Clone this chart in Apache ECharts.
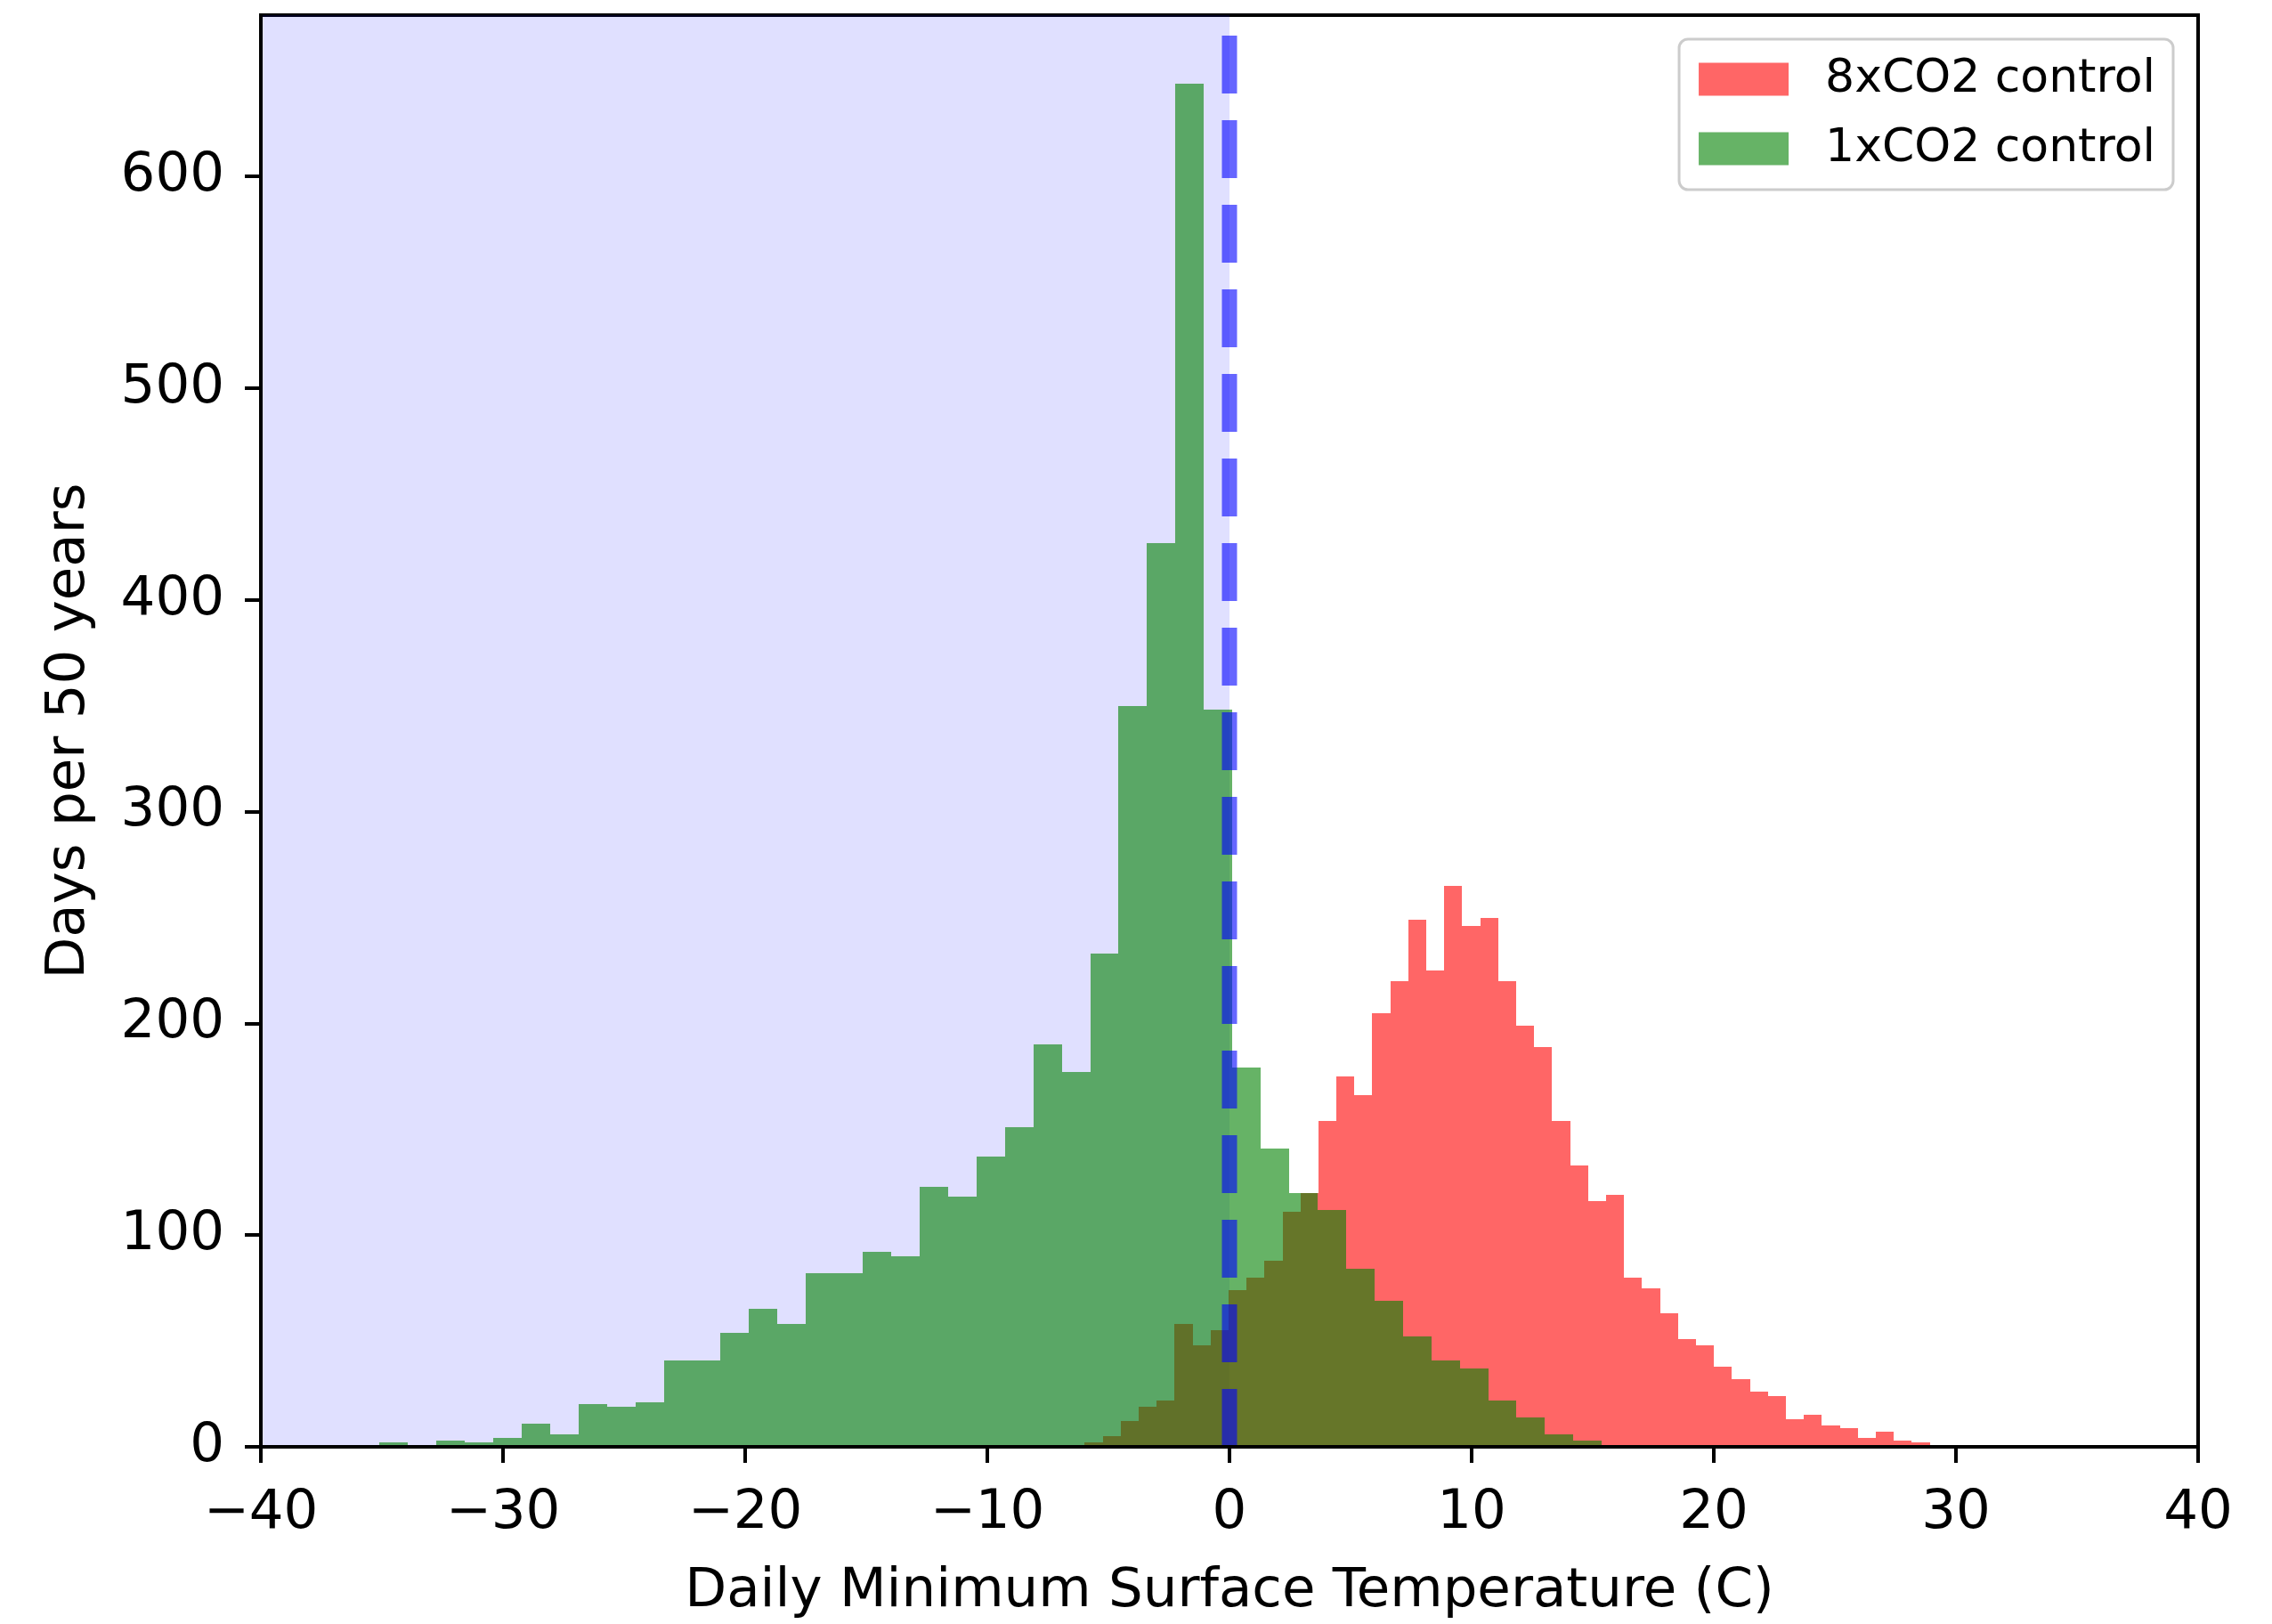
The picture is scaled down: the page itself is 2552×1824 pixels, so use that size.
<!DOCTYPE html>
<html>
<head>
<meta charset="utf-8">
<script src="https://cdn.jsdelivr.net/npm/echarts@6/dist/echarts.min.js"></script>
<style>
html,body{margin:0;padding:0;background:#ffffff;}
#chart{width:2552px;height:1824px;}
</style>
</head>
<body>
<div id="chart"></div>
<script>
// ---- Data ----
// 1xCO2 control histogram: first bin edge, bin width (deg C), counts per bin
const greenStart = -35.1;
const greenWidth = 1.1739;
const greenCounts = [2, 1, 3, 2, 4, 11, 6, 20, 19, 21,
                     41, 41, 54, 65, 58, 82, 82, 92, 90, 123,
                     118, 137, 151, 190, 177, 233, 350, 427, 644, 348,
                     179, 141, 120, 112, 84, 69, 52, 41, 37, 22,
                     14, 6, 3, 1];
// 8xCO2 control histogram
const redStart = -5.98;
const redWidth = 0.7425;
const redCounts = [2, 5, 12, 19, 22, 58, 48, 55, 74, 80,
                   88, 111, 120, 154, 175, 166, 205, 220, 249, 225,
                   265, 246, 250, 220, 199, 189, 154, 133, 116, 119,
                   80, 75, 63, 51, 48, 38, 32, 26, 24, 13,
                   15, 10, 9, 4, 7, 3, 2];
const xTicks = [-40, -30, -20, -10, 0, 10, 20, 30, 40];
const yTicks = [0, 100, 200, 300, 400, 500, 600];
const xMin = -40, xMax = 40;
const yMax = 676.2;
const freezeSpan = [-40, 0];   // shaded region (below freezing)
const thresholdX = 0;          // dashed line position
const seriesNames = ['8xCO2 control', '1xCO2 control'];

function toBins(start, width, counts) {
  return counts.map((c, i) => [start + i * width, start + (i + 1) * width, c]);
}

function renderRect(params, api) {
  const top = api.coord([api.value(0), api.value(2)]);
  const bot = api.coord([api.value(1), 0]);
  const x0 = Math.round(top[0]), x1 = Math.round(bot[0]);
  const y0 = Math.round(top[1]), y1 = Math.round(bot[1]);
  return {
    type: 'rect',
    shape: { x: x0, y: y0, width: x1 - x0, height: y1 - y0 },
    style: { fill: api.visual('color') }
  };
}

const FONT = 'DejaVu Sans';
const chart = echarts.init(document.getElementById('chart'), null, { renderer: 'canvas' });

const option = {
  backgroundColor: '#ffffff',
  animation: false,
  grid: {
    left: 293, right: 83, top: 17, bottom: 189,
    show: true, borderColor: '#000000', borderWidth: 4, backgroundColor: 'transparent'
  },
  legend: {
    orient: 'vertical',
    right: 111, top: 44,
    data: seriesNames,
    icon: 'rect',
    itemWidth: 101, itemHeight: 37, itemGap: 18,
    padding: [15, 20, 16, 22],
    backgroundColor: 'rgba(255,255,255,0.8)',
    borderColor: '#cccccc', borderWidth: 3, borderRadius: 10,
    textStyle: { fontSize: 52, color: '#000000', fontFamily: FONT, lineHeight: 60, padding: [0, 0, 0, 36] }
  },
  xAxis: {
    type: 'value', min: xMin, max: xMax, interval: 10, z: 10,
    name: 'Daily Minimum Surface Temperature (C)',
    nameLocation: 'middle', nameGap: 133,
    nameTextStyle: { fontSize: 61, color: '#000000', fontFamily: FONT },
    axisLine: { show: true, onZero: false, lineStyle: { color: '#000000', width: 4 } },
    axisTick: { show: true, length: 18, lineStyle: { color: '#000000', width: 4 }, customValues: xTicks },
    axisLabel: {
      fontSize: 61, color: '#000000', fontFamily: FONT, margin: 45,
      customValues: xTicks,
      formatter: v => (v < 0 ? '\u2212' + Math.abs(v) : String(v))
    },
    splitLine: { show: false }
  },
  yAxis: {
    type: 'value', min: 0, max: yMax, interval: 100, z: 10,
    name: 'Days per 50 years',
    nameLocation: 'middle', nameGap: 184, nameRotate: 90,
    nameTextStyle: { fontSize: 61, color: '#000000', fontFamily: FONT },
    axisLine: { show: true, onZero: false, lineStyle: { color: '#000000', width: 4 } },
    axisTick: { show: true, length: 18, lineStyle: { color: '#000000', width: 4 }, customValues: yTicks },
    axisLabel: {
      fontSize: 61, color: '#000000', fontFamily: FONT, margin: 41,
      customValues: yTicks,
      formatter: v => (yTicks.indexOf(v) >= 0 ? String(v) : '')
    },
    splitLine: { show: false }
  },
  series: [
    {
      name: 'below freezing',
      type: 'custom', z: 1, silent: true,
      itemStyle: { color: 'rgba(0,0,255,0.12)' },
      renderItem: renderRect,
      encode: { x: [0, 1], y: 2 },
      data: [[freezeSpan[0], freezeSpan[1], yMax]]
    },
    {
      name: seriesNames[0],
      type: 'custom', z: 2, silent: true,
      itemStyle: { color: 'rgba(255,0,0,0.6)' },
      renderItem: renderRect,
      encode: { x: [0, 1], y: 2 },
      data: toBins(redStart, redWidth, redCounts)
    },
    {
      name: seriesNames[1],
      type: 'custom', z: 3, silent: true,
      itemStyle: { color: 'rgba(0,128,0,0.6)' },
      renderItem: renderRect,
      encode: { x: [0, 1], y: 2 },
      data: toBins(greenStart, greenWidth, greenCounts)
    },
    {
      name: 'threshold',
      type: 'line', z: 5, silent: true,
      showSymbol: false, symbol: 'none',
      lineStyle: { color: 'rgba(0,0,255,0.6)', width: 17, type: [65, 30], cap: 'butt' },
      data: [[thresholdX, 0], [thresholdX, yMax]]
    }
  ]
};
chart.setOption(option);
</script>
</body>
</html>
